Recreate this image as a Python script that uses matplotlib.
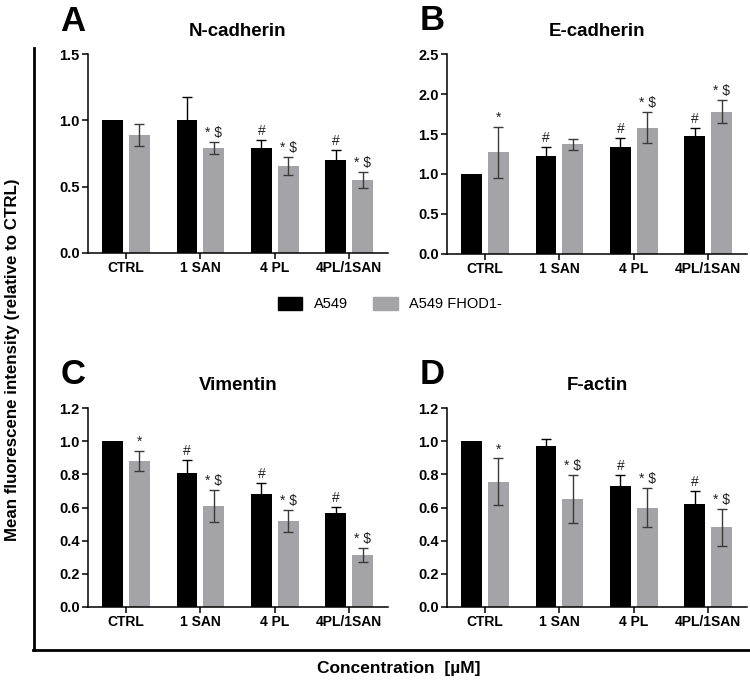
import matplotlib
matplotlib.use("Agg")
import matplotlib.pyplot as plt
from matplotlib.lines import Line2D
from matplotlib.patches import Patch
import numpy as np

plt.rcParams["font.family"] = ["Liberation Sans", "DejaVu Sans"]

categories = ["CTRL", "1 SAN", "4 PL", "4PL/1SAN"]
series_names = ["A549", "A549 FHOD1-"]

# N-cadherin
ncad_wt = [1.00, 1.00, 0.79, 0.70]
ncad_wt_err = [0.0, 0.175, 0.06, 0.075]
ncad_ko = [0.89, 0.79, 0.655, 0.55]
ncad_ko_err = [0.08, 0.045, 0.067, 0.062]
ncad_wt_sig = ["", "", "#", "#"]
ncad_ko_sig = ["", "* $", "* $", "* $"]

# E-cadherin
ecad_wt = [1.00, 1.23, 1.34, 1.47]
ecad_wt_err = [0.0, 0.11, 0.11, 0.11]
ecad_ko = [1.27, 1.37, 1.58, 1.78]
ecad_ko_err = [0.32, 0.07, 0.19, 0.14]
ecad_wt_sig = ["", "#", "#", "#"]
ecad_ko_sig = ["*", "", "* $", "* $"]

# Vimentin
vim_wt = [1.00, 0.81, 0.68, 0.565]
vim_wt_err = [0.0, 0.077, 0.067, 0.04]
vim_ko = [0.88, 0.61, 0.518, 0.313]
vim_ko_err = [0.06, 0.095, 0.068, 0.042]
vim_wt_sig = ["", "#", "#", "#"]
vim_ko_sig = ["*", "* $", "* $", "* $"]

# F-actin
fact_wt = [1.00, 0.968, 0.732, 0.62]
fact_wt_err = [0.0, 0.045, 0.063, 0.078]
fact_ko = [0.756, 0.65, 0.60, 0.48]
fact_ko_err = [0.14, 0.145, 0.115, 0.11]
fact_wt_sig = ["", "", "#", "#"]
fact_ko_sig = ["*", "* $", "* $", "* $"]

BLACK = "#000000"
GRAY = "#a4a4a8"
W, H = 750, 685

fig = plt.figure(figsize=(7.5, 6.85), dpi=100)


def box(l, t, r, b):
    return [l / W, 1 - b / H, (r - l) / W, (b - t) / H]


def px(x, y):
    return x / W, 1 - y / H


panels = [
    ("A", "N-cadherin", box(88, 54, 388, 253), ncad_wt, ncad_wt_err, ncad_ko, ncad_ko_err,
     ncad_wt_sig, ncad_ko_sig, 1.5, 0.5),
    ("B", "E-cadherin", box(447, 54, 747, 254), ecad_wt, ecad_wt_err, ecad_ko, ecad_ko_err,
     ecad_wt_sig, ecad_ko_sig, 2.5, 0.5),
    ("C", "Vimentin", box(88, 408, 388, 607), vim_wt, vim_wt_err, vim_ko, vim_ko_err,
     vim_wt_sig, vim_ko_sig, 1.2, 0.2),
    ("D", "F-actin", box(447, 408, 747, 607), fact_wt, fact_wt_err, fact_ko, fact_ko_err,
     fact_wt_sig, fact_ko_sig, 1.2, 0.2),
]

x = np.arange(len(categories))
bw, off = 0.28, 0.18


def mark(ax, xs, ys, errs, labels):
    for xi, yi, ei, s in zip(xs, ys, errs, labels):
        if s:
            ax.annotate(s, (xi, yi + ei), xytext=(0, 1.5), textcoords="offset points",
                        ha="center", va="bottom", fontsize=10, color="#222222")


for letter, title, rect, wt, wte, ko, koe, wsig, ksig, ymax, step in panels:
    ax = fig.add_axes(rect)
    wt_yerr = [e if e > 0 else np.nan for e in wte]
    ax.bar(x - off, wt, bw, color=BLACK, yerr=wt_yerr, capsize=3.5,
           error_kw=dict(ecolor=BLACK, elinewidth=1, capthick=1))
    ax.bar(x + off, ko, bw, color=GRAY, yerr=koe, capsize=3.5,
           error_kw=dict(ecolor="#3a3a3a", elinewidth=1, capthick=1))
    mark(ax, x - off, wt, wte, wsig)
    mark(ax, x + off, ko, koe, ksig)
    ax.set_xlim(-0.51, 3.52)
    ax.set_ylim(0, ymax)
    ticks = np.round(np.arange(0, ymax + step / 2, step), 2)
    ax.set_yticks(ticks)
    ax.set_yticklabels([f"{t:.1f}" for t in ticks], fontweight="bold", fontsize=10.5)
    ax.set_xticks(x)
    ax.set_xticklabels(categories, fontweight="bold", fontsize=10)
    for s in ["top", "right"]:
        ax.spines[s].set_visible(False)
    for s in ["left", "bottom"]:
        ax.spines[s].set_linewidth(1.1)
    ax.tick_params(direction="out", length=4, width=1.1, pad=2)
    ax.set_title(title, fontweight="bold", fontsize=13.5, pad=13)
    l, b, w, h = rect
    fig.text(l - 15 / W, b + h + 33 / H, letter, fontsize=25, fontweight="bold",
             ha="center", va="center")

# outer frame
fig.add_artist(Line2D([34 / W, 34 / W], [1 - 48 / H, 1 - 650 / H], color="black", lw=2))
fig.add_artist(Line2D([33 / W, 1.0], [1 - 650 / H, 1 - 650 / H], color="black", lw=2))

fig.text(*px(13, 360), "Mean fluorescene intensity (relative to CTRL)", rotation=90,
         ha="center", va="center", fontsize=12.2, fontweight="bold")
fig.text(*px(399, 668), "Concentration  [\u00b5M]", ha="center", va="center",
         fontsize=12.5, fontweight="bold")

handles = [Patch(color=BLACK), Patch(color=GRAY)]
fig.legend(handles, series_names, loc="center", bbox_to_anchor=px(390, 304), ncol=2,
           frameon=False, fontsize=10.5, handlelength=1.7, handleheight=1.0,
           handletextpad=0.8, columnspacing=1.7)

fig.savefig("out.png", dpi=100)
